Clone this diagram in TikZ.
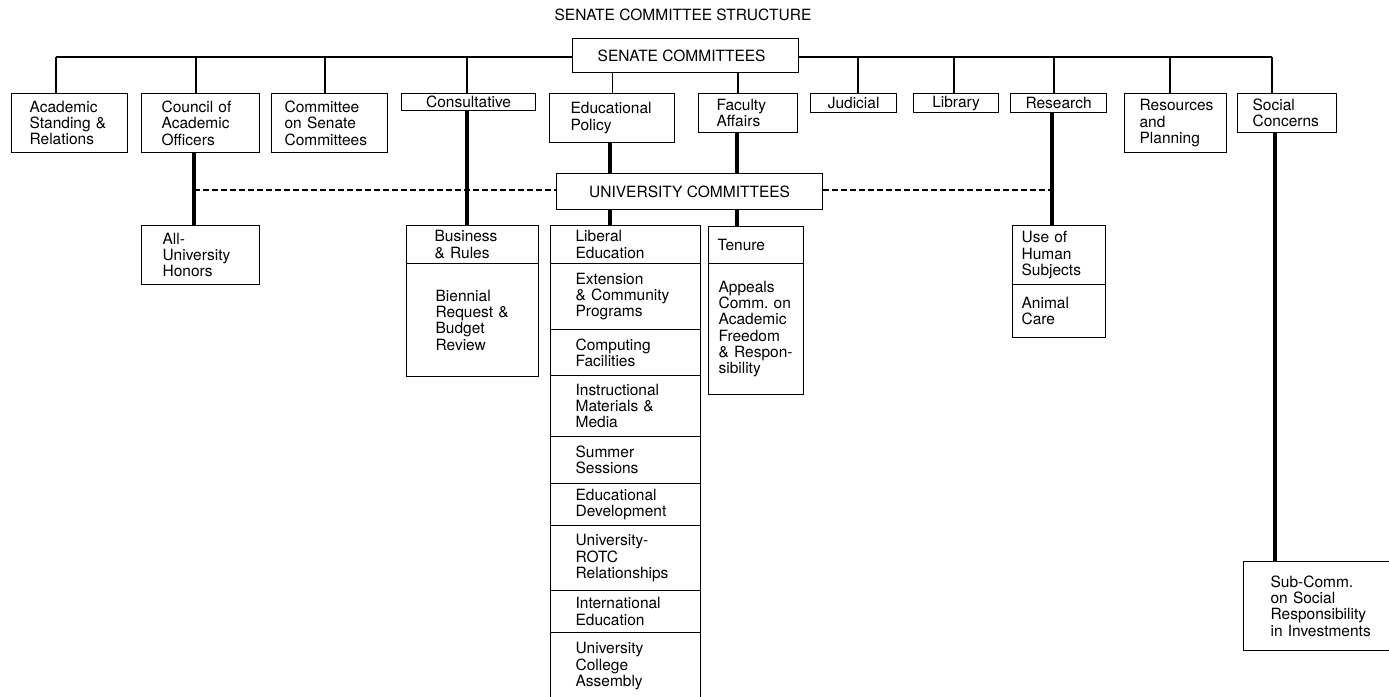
\documentclass[tikz,border=0pt]{standalone}
\usepackage{fontspec}
\setmainfont{TeX Gyre Heros}
\usetikzlibrary{calc}

% no word breaks inside the boxes, single spaces after full stops
\hyphenpenalty=10000
\frenchspacing

\tikzset{
  chartfont/.style={font=\fontsize{15.5}{16.3}\selectfont},
  box/.style={draw, line width=1.2pt, fill=white, anchor=north west,
    inner ysep=0pt, chartfont, align=left},
  cbox/.style={draw, line width=1.2pt, fill=white, anchor=north west,
    inner sep=0pt, chartfont, align=center},
  thinlink/.style={line width=1.2pt},
  heavylink/.style={line width=4.5pt},
  dashlink/.style={line width=1.5pt, dash pattern=on 6pt off 3pt},
}

% box with left-aligned text: name, x1, y1, x2, y2, left padding, text
\newcommand\cmtbox[7]{%
  \pgfmathsetmacro\cmtbh{#5-#3}%
  \pgfmathsetmacro\cmttw{#4-#2-2*#6}%
  \node[box, inner xsep=#6pt, text width=\cmttw pt, minimum height=\cmtbh pt]
    (#1) at (#2,#3) {#7};}

% box with centred text: name, x1, y1, x2, y2, text
\newcommand\ctrbox[6]{%
  \pgfmathsetmacro\ctrbw{#4-#2}%
  \pgfmathsetmacro\ctrbh{#5-#3}%
  \node[cbox, minimum width=\ctrbw pt, minimum height=\ctrbh pt]
    (#1) at (#2,#3) {#6};}

\begin{document}
\begin{tikzpicture}[x=1pt, y=-1pt]
\useasboundingbox (0,0) rectangle (1389,696);

\node[chartfont] (title) at (683,15) {SENATE COMMITTEE STRUCTURE};

% senate committees row
\ctrbox{senate}{572}{38}{798}{72}{SENATE COMMITTEES\hspace*{8pt}}
\cmtbox{acad}{11}{93}{127}{152}{18}{Academic\\Standing \&\\Relations}
\cmtbox{council}{141}{93}{259}{152}{20}{Council of\\Academic\\Officers}
\cmtbox{cosc}{271}{93}{387}{152}{13}{Committee\\on Senate\\Committees}
\ctrbox{consult}{401}{93}{535}{110}{Consultative}
\cmtbox{edpol}{549}{93}{674}{142}{21}{Educational\\Policy}
\cmtbox{faculty}{698}{93}{797}{132}{18}{Faculty\\Affairs}
\ctrbox{judicial}{810}{93}{896}{112}{Judicial}
\ctrbox{library}{913}{93}{998}{112}{Library}
\ctrbox{research}{1010}{93}{1106}{112}{Research}
\cmtbox{resources}{1124}{93}{1226}{152}{15}{Resources\\and\\Planning}
\cmtbox{social}{1237}{93}{1336}{132}{15}{Social\\Concerns}

% university committees
\ctrbox{univ}{556}{173}{822}{209}{UNIVERSITY COMMITTEES}

% subcommittees
\cmtbox{honors}{141}{225}{259}{284}{21}{All-\\University\\Honors}
\cmtbox{business}{406}{225}{538}{263}{28}{Business\\\& Rules}
\cmtbox{biennial}{406}{263}{538}{376}{29}{Biennial\\Request \&\\Budget\\Review}

\cmtbox{liberal}{550}{225}{700}{263}{25}{Liberal\\Education}
\cmtbox{extension}{550}{263}{700}{329}{25}{Extension\\\& Community\\Programs}
\cmtbox{computing}{550}{329}{700}{375}{25}{Computing\\Facilities}
\cmtbox{instruct}{550}{375}{700}{436}{25}{Instructional\\Materials \&\\Media}
\cmtbox{summer}{550}{436}{700}{483}{25}{Summer\\Sessions}
\cmtbox{eddev}{550}{483}{700}{525}{25}{Educational\\Development}
\cmtbox{rotc}{550}{525}{700}{590}{25}{University-\\ROTC\\Relationships}
\cmtbox{intl}{550}{590}{700}{632}{25}{International\\Education}
\cmtbox{uca}{550}{632}{700}{699}{25}{University\\College\\Assembly}

\cmtbox{tenure}{708}{226}{803}{263}{9}{Tenure}
\cmtbox{appeals}{708}{263}{803}{394}{10}{Appeals\\Comm. on\\Academic\\Freedom\\\& Respon-\\sibility}

\cmtbox{human}{1012}{225}{1105}{284}{9}{Use of\\Human\\Subjects}
\cmtbox{animal}{1012}{284}{1105}{337}{9}{Animal\\Care}

\cmtbox{subcomm}{1243}{561}{1403}{650}{27}{Sub-Comm.\\on Social\\Responsibility\\in Investments}

% top bus joining the senate committees
\coordinate (busL) at (56,57);
\coordinate (busR) at (1272,57);
\draw[thinlink] (busL) -- (busL -| senate.west);
\draw[thinlink] (senate.east |- busR) -- (busR);
\foreach \n/\x in {acad/56, council/196, cosc/325, consult/467, judicial/858,
                   library/954, research/1054, resources/1170, social/1272} {
  \coordinate (drop-\n) at (\x,57);
  \draw[thinlink] (drop-\n) -- (drop-\n |- \n.north);
}
\draw[thinlink] (edpol.north |- senate.south) -- (edpol.north);
\coordinate (drop-faculty) at (738,72);
\draw[thinlink] (drop-faculty) -- (drop-faculty |- faculty.north);

% heavy links to subcommittees
\coordinate (v-council) at (194,190);
\coordinate (v-consult) at (467,190);
\coordinate (v-edpol) at (610,190);
\coordinate (v-faculty) at (737,190);
\coordinate (v-research) at (1052,190);
\coordinate (v-social) at (1275,190);

\draw[dashlink] (v-council) -- (v-council -| univ.west);
\draw[dashlink] (univ.east |- v-research) -- (v-research);

\draw[heavylink] (v-council |- council.south) -- (v-council |- honors.north);
\draw[heavylink] (v-consult |- consult.south) -- (v-consult |- business.north);
\draw[heavylink] (v-edpol |- edpol.south) -- (v-edpol |- univ.north);
\draw[heavylink] (v-edpol |- univ.south) -- (v-edpol |- liberal.north);
\draw[heavylink] (v-faculty |- faculty.south) -- (v-faculty |- univ.north);
\draw[heavylink] (v-faculty |- univ.south) -- (v-faculty |- tenure.north);
\draw[heavylink] (v-research |- research.south) -- (v-research |- human.north);
\draw[heavylink] (v-social |- social.south) -- (v-social |- subcomm.north);
\end{tikzpicture}
\end{document}
